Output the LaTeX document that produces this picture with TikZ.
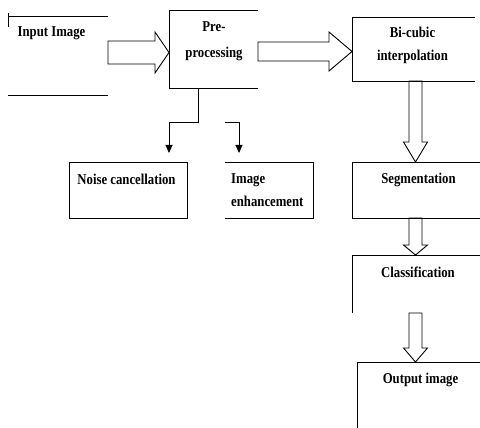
\documentclass[tikz,border=0pt]{standalone}
\usepackage{fontspec}
\setmainfont{Liberation Serif}[FakeStretch=0.85]
\usetikzlibrary{calc,arrows.meta}

% hollow block arrow: start, tip, half body, half head, head length
\newcommand{\fatarrow}[5]{%
	\coordinate (fa-h) at ($(#2)!#5!(#1)$);
	\draw[edge, line join=miter] ($(#1)!#3!90:(#2)$) -- ($(fa-h)!#3!-90:(#1)$) -- ($(fa-h)!#4!-90:(#1)$)
		-- (#2) -- ($(fa-h)!#4!90:(#1)$) -- ($(fa-h)!#3!90:(#1)$) -- ($(#1)!#3!-90:(#2)$) -- cycle;
}

\begin{document}
\begin{tikzpicture}[x=1pt,y=-1pt,
		edge/.style={line width=.9pt},
		frame/.style={inner sep=0pt, outer sep=0pt, line width=.9pt},
		txt/.style={font=\fontsize{15}{23}\selectfont\bfseries, inner sep=0pt, align=center},
		branch/.style={edge, -{Triangle[width=7pt,length=8pt]}}]
	\useasboundingbox (0,0) rectangle (480,428);
	\clip (0,0) rectangle (480,428);
		% boxes
			\node[frame, minimum width=100pt, minimum height=79pt] (inp) at (58,55.5) {};
			\node[frame, minimum width=89pt, minimum height=78pt] (pre) at (213.5,49) {};
			\node[frame, minimum width=123pt, minimum height=64pt] (bic) at (413.5,49) {};
			\node[frame, draw, minimum width=118pt, minimum height=56pt] (noise) at (128,190) {};
			\node[frame, minimum width=88pt, minimum height=56pt] (enh) at (269,190) {};
			\node[frame, draw, minimum width=130pt, minimum height=56pt] (seg) at (417,190) {};
			\node[frame, minimum width=130pt, minimum height=58pt] (cls) at (417,284) {};
			\node[frame, minimum width=125pt, minimum height=68pt] (out) at (419.5,396) {};
		% open sides
			\draw[edge] (inp.north west) -- (inp.north east) (inp.south west) -- (inp.south east);
			\draw[edge] ($(inp.north west)+(0,-3)$) -- ++(0,14);
			\draw[edge] (pre.north east) -- (pre.north west) -- (pre.south west) -- (pre.south east);
			\draw[edge] (bic.north east) -- (bic.north west) -- (bic.south west) -- (bic.south east);
			\draw[edge] (enh.north west) -- (enh.north east) -- (enh.south east) -- (enh.south west);
			\draw[edge] (cls.north east) -- (cls.north west) -- (cls.south west);
			\draw[edge] (out.north east) -- (out.north west) -- (out.south west);
		% texts
			\node[txt] (inptxt) at (51.5,33) {Input Image};
			\node[txt, font=\fontsize{15}{26}\selectfont\bfseries] (pretxt) at (214,41.5) {Pre-\\processing};
			\node[txt] (bictxt) at (412.5,45) {Bi-cubic\\interpolation};
			\node[txt] (noisetxt) at (126.5,179) {Noise cancellation};
			\node[txt, align=left, anchor=west] (enhtxt) at (231,190) {Image\\enhancement};
			\node[txt] (segtxt) at (418.5,179.5) {Segmentation};
			\node[txt] (clstxt) at (418,272) {Classification};
			\node[txt] (outtxt) at (420.5,380) {Output image};
		% block arrows
			\coordinate (a1s) at ($(inp.east)+(0,-3)$);
			\coordinate (a2s) at ($(pre.east)+(0,2.5)$);
			\coordinate (ax) at (415.5,0);
			\fatarrow{a1s}{pre.west |- a1s}{11.5pt}{20.5pt}{14pt}
			\fatarrow{a2s}{bic.west |- a2s}{9.5pt}{19.5pt}{23pt}
			\fatarrow{bic.south -| ax}{seg.north -| ax}{6.5pt}{12pt}{20pt}
			\fatarrow{seg.south -| ax}{cls.north -| ax}{6.5pt}{12pt}{10pt}
			\fatarrow{cls.south -| ax}{out.north -| ax}{6.5pt}{12pt}{14pt}
		% branches
			\coordinate (fork) at ($(pre.south west)+(29,34)$);
			\coordinate (nzin) at ($(noise.north east)+(-18,-9)$);
			\coordinate (ehin) at ($(enh.north west)+(14,-9)$);
			\draw[branch] (fork |- pre.south) -- (fork) -| (nzin);
			\draw[branch] (enh.north west |- fork) -| (ehin);
\end{tikzpicture}
\end{document}
